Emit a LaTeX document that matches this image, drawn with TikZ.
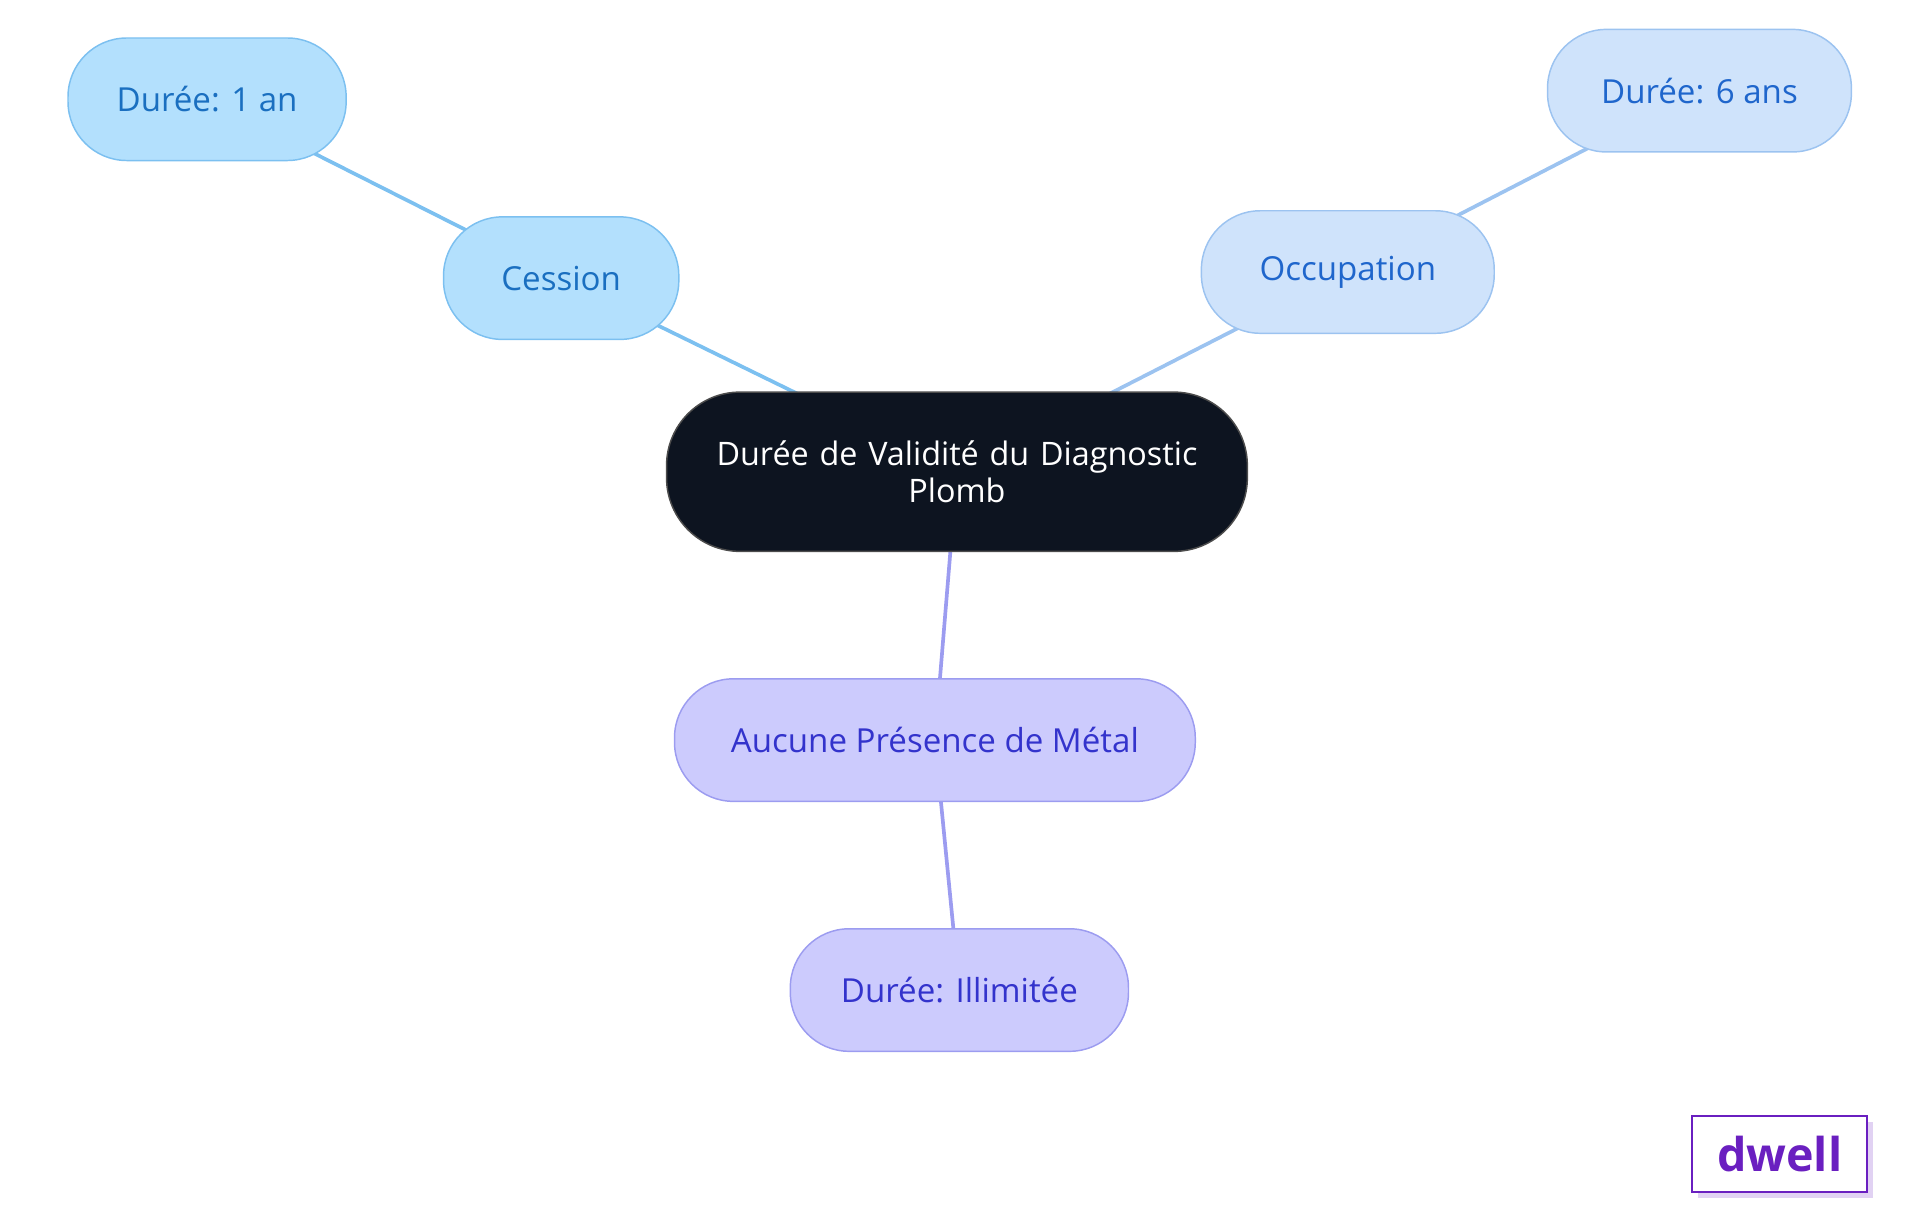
\documentclass[tikz,border=0pt]{standalone}
\usepackage{fontspec}
\setmainfont{Open Sans}
\usetikzlibrary{backgrounds}
\definecolor{cfillA}{HTML}{B3E0FD}\definecolor{cdrawA}{HTML}{7CC0F0}\definecolor{ctextA}{HTML}{1A6FC0}
\definecolor{cfillB}{HTML}{CFE3FB}\definecolor{cdrawB}{HTML}{9CC3F0}\definecolor{ctextB}{HTML}{1F66CC}
\definecolor{cfillC}{HTML}{CCCBFD}\definecolor{cdrawC}{HTML}{9C9CF0}\definecolor{ctextC}{HTML}{3333CC}
\definecolor{croot}{HTML}{0D1420}\definecolor{clogo}{HTML}{6A1FC0}
\begin{document}
\begin{tikzpicture}[x=0.5pt,y=-0.5pt,
  box/.style={rounded corners=24pt,minimum height=50pt,font=\fontsize{13.5}{16}\selectfont,line width=0.6pt,align=center,inner sep=0pt},
  ba/.style={box,fill=cfillA,draw=cdrawA,text=ctextA},
  bb/.style={box,fill=cfillB,draw=cdrawB,text=ctextB},
  bc/.style={box,fill=cfillC,draw=cdrawC,text=ctextC},
  la/.style={line width=1.5pt,draw=cdrawA},
  lb/.style={line width=1.5pt,draw=cdrawB},
  lc/.style={line width=1.5pt,draw=cdrawC}]
\useasboundingbox (0,0) rectangle (1567,992);
\node[box,fill=croot,draw=gray!60!black,text=white,minimum width=237pt,minimum height=65pt,rounded corners=30pt,text width=220pt,font=\fontsize{13.2}{15}\selectfont] (root) at (781,385) {Durée de Validité du Diagnostic\\Plomb};
\node[ba,minimum width=96pt] (ces) at (458,227) {Cession};
\node[ba,minimum width=113.5pt] (an1) at (169,81) {Durée: 1 an};
\node[bb,minimum width=119.5pt] (occ) at (1100,222) {Occupation};
\node[bb,minimum width=124pt] (an6) at (1387,74) {Durée: 6 ans};
\node[bc,minimum width=212.5pt] (auc) at (763,604) {Aucune Présence de Métal};
\node[bc,minimum width=138pt] (ill) at (783,808) {Durée: Illimitée};
\begin{pgfonlayer}{background}
\draw[la] (root.center) -- (ces.center);
\draw[la] (ces.center) -- (an1.center);
\draw[lb] (root.center) -- (occ.center);
\draw[lb] (occ.center) -- (an6.center);
\draw[lc] (root.center) -- (auc.center);
\draw[lc] (auc.center) -- (ill.center);
\end{pgfonlayer}
\fill[clogo!20] (1386,916) rectangle (1529,978);
\node[draw=clogo,fill=white,line width=0.8pt,minimum width=71.5pt,minimum height=31pt,inner sep=0pt,text=clogo,font=\fontsize{19}{20}\selectfont\bfseries] (logo) at (1452.5,942) {dwell};
\end{tikzpicture}
\end{document}
